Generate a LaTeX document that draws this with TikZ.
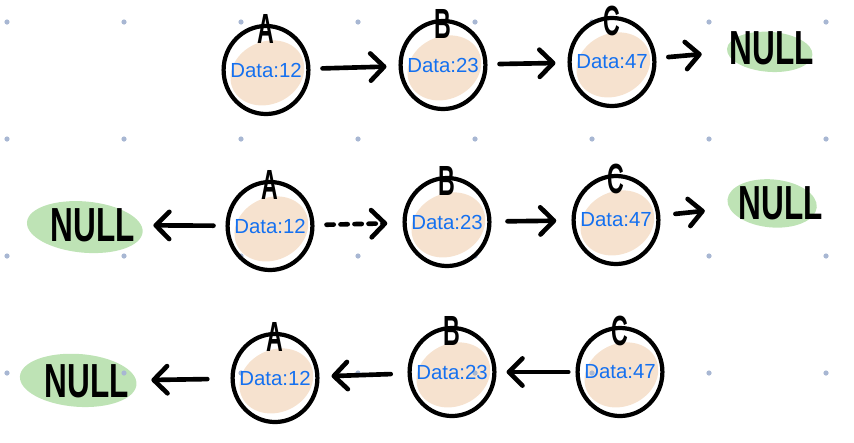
\documentclass[tikz,border=0pt]{standalone}
\usepackage{fontspec}
\setmainfont{Liberation Sans}
\usepackage{graphicx}
\usetikzlibrary{shapes.geometric,arrows.meta,backgrounds}

\definecolor{peach}{HTML}{F6E2CF}
\definecolor{leaf}{HTML}{BEE3B5}
\definecolor{ink}{HTML}{1470F0}
\definecolor{griddot}{HTML}{A8B7D3}
\newcommand{\narrowtext}[2]{\scalebox{#1}[1]{#2}}
\newcommand{\datatext}[1]{\makebox[0pt]{Data:#1}}

\begin{document}
\begin{tikzpicture}[x=0.025cm,y=-0.025cm,line cap=round,
    >={Straight Barb[length=0.34cm,width=0.68cm,line cap=round,line join=round]},
    list node/.style={ellipse,draw,line width=3pt,minimum width=2.12cm,minimum height=2.2cm,inner sep=0pt,text=ink,font=\fontsize{14.5}{15}\selectfont},
    tag/.style={inner sep=0pt,font=\bfseries\fontsize{30}{30}\selectfont},
    null node/.style={inner sep=0pt,font=\bfseries\fontsize{34}{34}\selectfont},
    link/.style={->,line width=3.3pt,shorten <=0.3cm,shorten >=0.3cm}]

            \useasboundingbox (0,0) rectangle (854,442);

            % first row
            \node[list node] (a1) at (266,70) {\datatext{12}};
            \node[list node] (b1) at (443,65) {\datatext{23}};
            \node[list node] (c1) at (612,62) {\datatext{47}};
            \node[null node] (n1) at (772,48) {\narrowtext{0.66}{NULL}};

            % second row
            \node[null node] (n2) at (93,225) {\narrowtext{0.66}{NULL}};
            \node[list node] (a2) at (270,226) {\datatext{12}};
            \node[list node] (b2) at (447,222) {\datatext{23}};
            \node[list node] (c2) at (616,220) {\datatext{47}};
            \node[null node] (m2) at (781,203) {\narrowtext{0.66}{NULL}};

            % third row
            \node[null node] (n3) at (87,381) {\narrowtext{0.66}{NULL}};
            \node[list node] (a3) at (275,378) {\datatext{12}};
            \node[list node] (b3) at (452,372) {\datatext{23}};
            \node[list node] (c3) at (620,372) {\datatext{47}};

            \foreach \n/\t in {a1/A,b1/B,c1/C,a2/A,b2/B,c2/C,a3/A,b3/B,c3/C}
                \node[tag] (tag-\n) at ([yshift=-0.13cm]\n.north) {\narrowtext{0.55}{\t}};

            \draw[link] (a1) to (b1);
            \draw[link] (b1) to (c1);
            \draw[link,shorten >=0.7cm] (c1) to (n1);

            \draw[link,shorten >=0.45cm] (a2) to (n2);
            \draw[link,dash pattern=on 0.18cm off 0.17cm,shorten >=0.38cm] (a2) to (b2);
            \draw[link,shorten <=0.4cm,shorten >=0.38cm] (b2) to (c2);
            \draw[link,shorten <=0.38cm,shorten >=0.85cm] (c2) to (m2);

            \draw[link,shorten <=0.58cm,shorten >=0.55cm] (a3) to (n3);
            \draw[link,shorten <=0.42cm] (b3) to (a3);
            \draw[link,shorten <=0.18cm,shorten >=0.25cm] (c3) to (b3);

            \begin{scope}[on background layer]
                \foreach \n in {a1,b1,c1,a2,b2,c2,a3,b3,c3}
                    \fill[peach,rotate around={25:(\n)}] ([yshift=-0.08cm]\n.center) ellipse [x radius=0.95cm,y radius=0.78cm];
                \fill[leaf,rotate around={-4:(n1)}] ([xshift=-0.05cm,yshift=-0.1cm]n1.center) ellipse [x radius=1.07cm,y radius=0.5cm];
                \fill[leaf,rotate around={-5:(n2)}] ([xshift=-0.2cm,yshift=-0.07cm]n2.center) ellipse [x radius=1.45cm,y radius=0.64cm];
                \fill[leaf,rotate around={-5:(m2)}] ([xshift=-0.22cm,yshift=-0.03cm]m2.center) ellipse [x radius=1.12cm,y radius=0.6cm];
                \fill[leaf,rotate around={-4:(n3)}] ([xshift=-0.22cm]n3.center) ellipse [x radius=1.46cm,y radius=0.66cm];
                \foreach \i in {0,...,7}
                    \foreach \j in {0,...,3}
                        \fill[griddot] ({7+117*\i},{22+117*\j}) circle (0.065cm);
            \end{scope}
        \end{tikzpicture}
\end{document}
